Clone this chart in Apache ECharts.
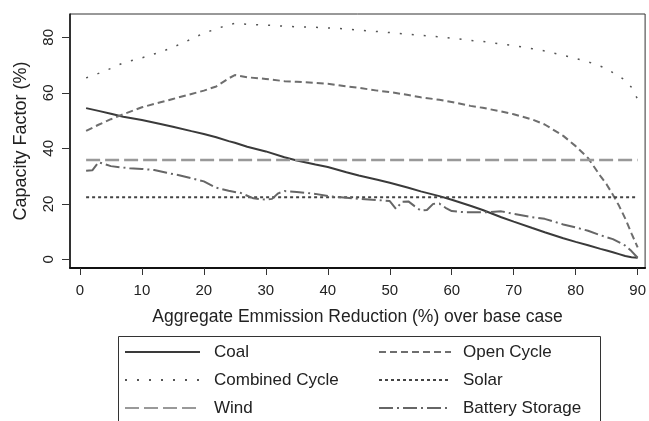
<!DOCTYPE html>
<html>
<head>
<meta charset="utf-8">
<script src="https://cdn.jsdelivr.net/npm/echarts@6/dist/echarts.min.js"></script>
<style>
  html, body { margin: 0; padding: 0; background: #fff; }
  #chart { width: 649px; height: 421px; }
</style>
</head>
<body>
<div id="chart"></div>
<script>
// Emission reduction (%) at which each capacity factor was sampled
const reduction = [1, 3, 5, 7, 10, 13, 15, 18, 20, 22, 24, 25, 27, 30, 33, 35, 38, 40, 43, 45,
  48, 50, 53, 55, 58, 60, 63, 65, 68, 70, 73, 75, 78, 80, 82, 84, 85, 86, 87, 88, 89, 90];

const coal = [54.5, 53.5, 52.5, 51.4, 50.2, 48.8, 47.8, 46.2, 45.2, 44.0, 42.6, 42.0, 40.6, 38.9, 36.8, 35.6, 34.2, 33.3, 31.4, 30.2,
  28.7, 27.6, 25.8, 24.5, 22.8, 21.5, 19.3, 17.8, 15.2, 13.6, 11.3, 9.8, 7.6, 6.3, 5.1, 3.8, 3.2, 2.6, 1.9, 1.2, 0.8, 0.6];

const openCycle = [46.3, 48.5, 50.5, 52.3, 54.8, 56.6, 57.8, 59.6, 60.8, 62.3, 65.2, 66.4, 65.6, 65.0, 64.2, 64.0, 63.6, 63.3, 62.3, 61.8,
  60.8, 60.3, 59.2, 58.4, 57.5, 56.7, 55.3, 54.6, 53.3, 52.3, 50.4, 48.6, 44.5, 40.8, 36.5, 30.0, 27.0, 23.3, 19.3, 14.7, 9.4, 4.3];

const combinedCycle = [65.4, 67.0, 68.8, 70.8, 72.6, 74.7, 76.4, 79.4, 81.5, 83.0, 84.6, 85.0, 84.7, 84.4, 84.0, 83.8, 83.6, 83.4, 83.0, 82.6,
  82.1, 81.7, 81.1, 80.7, 80.2, 79.7, 78.9, 78.5, 77.6, 77.0, 75.9, 75.1, 73.5, 72.4, 71.2, 69.6, 68.7, 67.3, 66.0, 64.5, 62.0, 57.7];

// Flat technologies
const flatX = [1, 90];
const solar = [22.4, 22.4];
const wind = [35.8, 35.8];

// Battery storage is sampled more finely where it fluctuates
const batteryX = [1, 2, 3, 5, 8, 10, 12, 14, 16, 18, 20, 22, 24, 26, 28, 30, 31, 32, 33, 35, 38, 40, 43, 45, 48, 50,
  51, 52, 53, 54, 55, 56, 57, 58, 59, 60, 62, 64, 66, 68, 70, 73, 75, 78, 80, 82, 84, 86, 88, 89, 90];
const battery = [31.9, 32.1, 35.0, 33.6, 32.8, 32.6, 32.2, 31.2, 30.3, 29.2, 28.1, 25.8, 24.7, 23.9, 22.0, 21.5, 21.8, 23.8, 24.6, 24.3, 23.6, 22.8, 22.2, 21.8, 21.4, 21.0,
  18.2, 20.8, 20.9, 19.2, 17.6, 17.8, 20.0, 20.1, 18.6, 17.4, 17.0, 17.0, 17.0, 17.3, 16.4, 15.2, 14.6, 12.6, 11.5, 10.3, 8.7, 7.3, 5.0, 3.0, 0.6];

const xTicks = [0, 10, 20, 30, 40, 50, 60, 70, 80, 90];
const yTicks = [0, 20, 40, 60, 80];

const FONT = "'Liberation Sans', Arial, Helvetica, sans-serif";
const pairs = (xs, ys) => xs.map((x, i) => [x, ys[i]]);

function lineSeries(name, xs, ys, color, width, dash) {
  return {
    name: name,
    type: 'line',
    data: pairs(xs, ys),
    symbol: 'none',
    silent: true,
    animation: false,
    itemStyle: { color: color },
    lineStyle: { color: color, width: width, type: dash, cap: 'butt' }
  };
}

const legendText = { fontFamily: FONT, fontSize: 17, color: '#222', lineHeight: 20 };
const legendCommon = {
  orient: 'vertical', top: 342, padding: 0,
  itemHeight: 20, itemGap: 8,
  selectedMode: false,
  // line-only keys: hide the marker drawn in the middle of each key
  itemStyle: { color: 'transparent', opacity: 0, borderWidth: 0 }
};

const option = {
  backgroundColor: '#fff',
  animation: false,
  grid: {
    left: 70, top: 14, width: 578, height: 254,
    show: true, borderColor: '#333', borderWidth: 1, backgroundColor: 'transparent'
  },
  xAxis: {
    type: 'value',
    min: -1.6, max: 91.2,
    name: 'Aggregate Emmission Reduction (%) over base case',
    nameLocation: 'middle',
    nameGap: 40,
    nameTextStyle: { fontFamily: FONT, fontSize: 17.5, color: '#222' },
    axisLine: { show: true, onZero: false, lineStyle: { color: '#111', width: 2 } },
    axisTick: { show: true, customValues: xTicks, length: 7, lineStyle: { color: '#333', width: 1 } },
    axisLabel: { customValues: xTicks, margin: 15, fontFamily: FONT, fontSize: 15, color: '#222' },
    splitLine: { show: false }
  },
  yAxis: {
    type: 'value',
    min: -3.1, max: 88.4,
    name: 'Capacity Factor (%)',
    nameLocation: 'middle',
    nameGap: 40,
    nameTextStyle: { fontFamily: FONT, fontSize: 18, color: '#222' },
    axisLine: { show: true, onZero: false, lineStyle: { color: '#111', width: 1.5 } },
    axisTick: { show: true, customValues: yTicks, length: 8, lineStyle: { color: '#333', width: 1 } },
    axisLabel: { customValues: yTicks, rotate: 90, margin: 14, fontFamily: FONT, fontSize: 15, color: '#222' },
    splitLine: { show: false }
  },
  legend: [
    Object.assign({
      left: 124, itemWidth: 75,
      data: ['Coal', 'Combined Cycle', 'Wind'],
      textStyle: Object.assign({ padding: [0, 0, 0, 9] }, legendText)
    }, legendCommon),
    Object.assign({
      left: 378, itemWidth: 72,
      data: ['Open Cycle', 'Solar', 'Battery Storage'],
      textStyle: Object.assign({ padding: [0, 0, 0, 7] }, legendText)
    }, legendCommon)
  ],
  graphic: [
    {
      type: 'rect', silent: true,
      shape: { x: 118.5, y: 336.5, width: 482, height: 100 },
      style: { fill: 'none', stroke: '#333', lineWidth: 1 }
    }
  ],
  series: [
    lineSeries('Coal', reduction, coal, '#3a3a3a', 2, 'solid'),
    lineSeries('Open Cycle', reduction, openCycle, '#6e6e6e', 2, [7, 4]),
    lineSeries('Combined Cycle', reduction, combinedCycle, '#555', 1.5, [2, 10]),
    lineSeries('Solar', flatX, solar, '#444', 2, [3, 3]),
    lineSeries('Wind', flatX, wind, '#999', 2.5, [14, 5]),
    lineSeries('Battery Storage', batteryX, battery, '#666', 2, [14, 4, 2, 4])
  ]
};

const chart = echarts.init(document.getElementById('chart'), null, { renderer: 'canvas' });
chart.setOption(option);
</script>
</body>
</html>
